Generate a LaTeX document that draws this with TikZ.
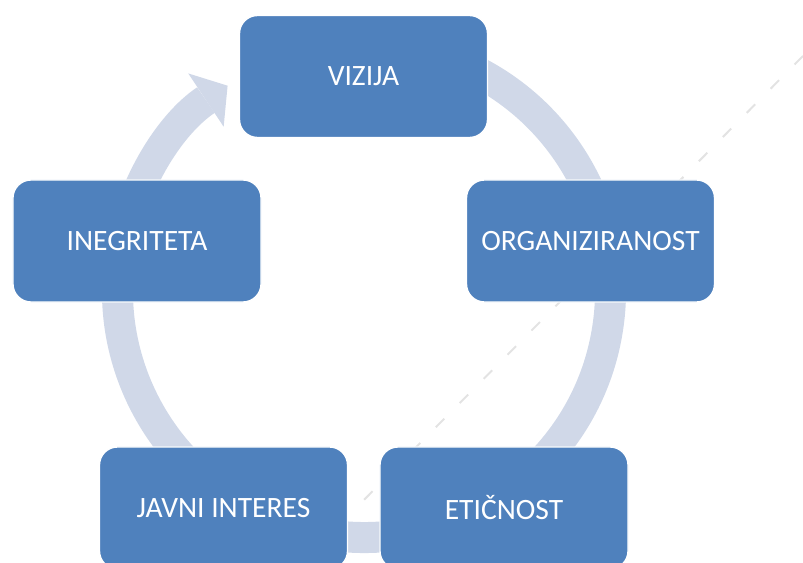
\documentclass[tikz,border=0pt]{standalone}
\usepackage{fontspec}
\setmainfont{Carlito}
\usepackage{xcolor}
\usepackage{tikz}
\usetikzlibrary{arrows.meta}
\definecolor{stageBlue}{RGB}{79,129,189}
\definecolor{ringGrey}{RGB}{208,216,232}

\begin{document}
\begin{tikzpicture}[x=0.025cm, y=0.025cm,
    stage/.style={rectangle, rounded corners=0.45cm, minimum width=6.2cm, minimum height=3.05cm, inner sep=0pt, fill=stageBlue, draw=white, line width=1pt, text=white, font=\fontsize{21}{25}\selectfont},
    ring/.style={draw=ringGrey, line width=0.775cm, -{Triangle[length=0.65cm, width=1.6cm, line width=0pt]}},
    trace/.style={draw=gray!22, line width=0.05cm, dash pattern=on 0.3cm off 0.55cm}
]
    \useasboundingbox (0,0) rectangle (803,563);
    \coordinate (hub) at (364,272);
    \coordinate (traceA) at (803,507);
    \coordinate (traceB) at (355,54);
    \draw[trace] (traceA) -- (traceB);
    \draw[ring] ([shift={(80:246.5)}]hub) arc[start angle=80, end angle=-236.4, radius=246.5];

    \node[stage] (vizija) at (363.5,486.5) {VIZIJA};
    \node[stage] (organiziranost) at (590.5,322) {ORGANIZIRANOST};
    \node[stage] (eticnost) at (504,55) {ETIČNOST};
    \node[stage] (javni) at (223.5,55) {JAVNI INTERES};
    \node[stage] (inegriteta) at (137,322) {INEGRITETA};
\end{tikzpicture}
\end{document}
